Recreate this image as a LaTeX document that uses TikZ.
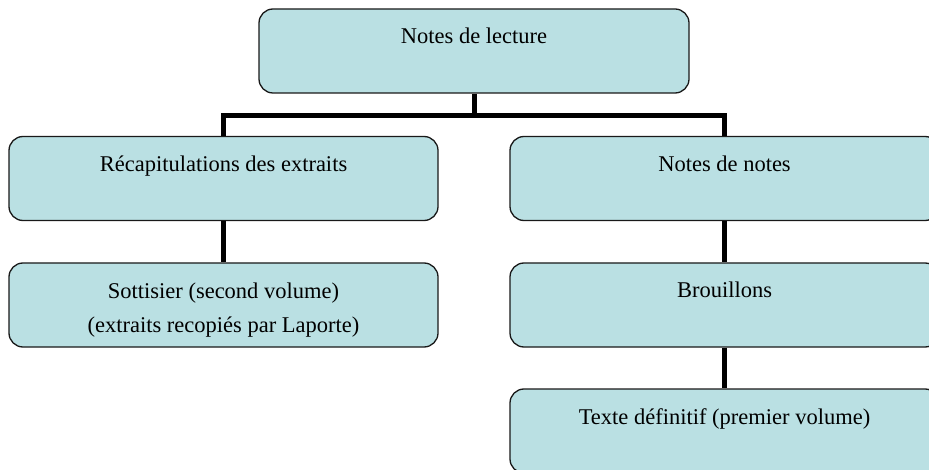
\documentclass[tikz,border=0pt]{standalone}
\usepackage{fontspec}
\setmainfont{Liberation Serif}
\definecolor{orgblue}{RGB}{186,224,227}

\begin{document}
\begin{tikzpicture}[x=1pt,y=-1pt,
   orgbox/.style={draw=black!90,line width=1.3pt,fill=orgblue,rounded corners=14pt,
     minimum width=429pt,minimum height=84pt,inner sep=0pt,align=center,
     text height=35pt,text depth=49pt,font=\fontsize{22.5}{35}\selectfont},
   link/.style={line width=5pt,line join=miter}]
   \useasboundingbox (0,0) rectangle (929,470);
   \clip (0,0) rectangle (929,470);
   \node[orgbox,minimum width=430pt] (lecture) at (474,51) {Notes de lecture};
   \node[orgbox] (recap) at (223.5,178.5) {Récapitulations des extraits};
   \node[orgbox] (notes) at (724.5,178.5) {Notes de notes};
   \node[orgbox,text height=70pt,text depth=14pt] (sottisier) at (223.5,305)
     {Sottisier (second volume)\\(extraits recopiés par Laporte)};
   \node[orgbox] (brouillons) at (724.5,305) {Brouillons};
   \node[orgbox] (texte) at (724.5,431) {Texte définitif (premier volume)};
   \coordinate (fork) at (474,116);
   \draw[link] (lecture.south) -- (fork);
   \draw[link] (recap.north) |- (fork) -| (notes.north);
   \draw[link] (recap.south) -- (sottisier.north);
   \draw[link] (notes.south) -- (brouillons.north);
   \draw[link] (brouillons.south) -- (texte.north);
  \end{tikzpicture}
\end{document}
